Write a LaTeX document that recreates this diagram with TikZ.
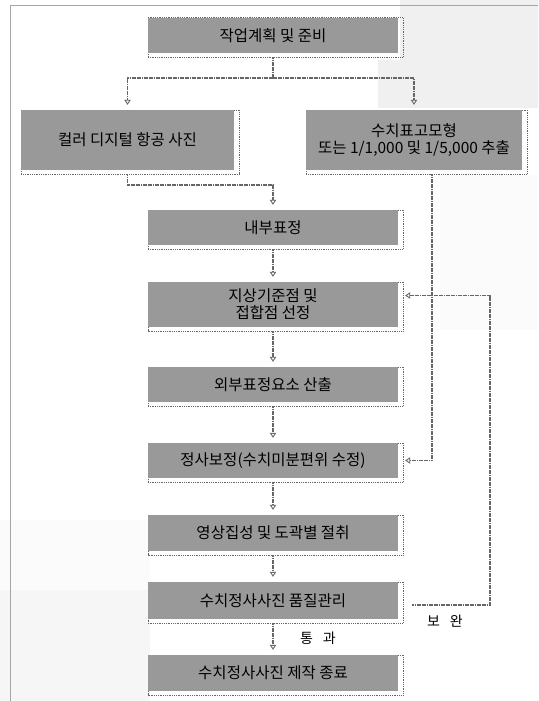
\documentclass[tikz,border=0pt]{standalone}
\usepackage{fontspec}
\setmainfont{Noto Sans CJK KR}
\usetikzlibrary{arrows.meta,backgrounds,calc}
\definecolor{boxgray}{gray}{0.6}
\definecolor{linegray}{gray}{0.4}
\definecolor{speckle}{gray}{0.94}
\newcommand\mywidespace{\spaceskip 0.7em\relax}
\begin{document}
\begin{tikzpicture}[x=1pt,y=-1pt,
  box/.style={fill=boxgray, inner sep=0pt, align=center,
    font=\fontsize{15.5}{17}\selectfont, minimum width=250pt, text=black},
  outl/.style={draw=linegray, line width=0.6pt, dash pattern=on 1pt off 0.8pt},
  ln/.style={draw=linegray, line width=1.6pt, dash pattern=on 1.8pt off 0.6pt},
  arr/.style={ln, shorten >=5pt,
    -{Triangle[open,length=5pt,width=6.5pt,line width=0.9pt]}},
  lbl/.style={font=\fontsize{14}{15}\selectfont\mywidespace, inner sep=0pt},
  framec/.style={draw=gray!70, line width=0.9pt}]
\useasboundingbox (0,0) rectangle (538,701);
\begin{scope}[on background layer]
  \fill[white] (0,0) rectangle (538,701);
  \fill[speckle] (400,0) -- (538,0) -- (538,108) -- (378,108) -- (378,60) -- (400,60) -- cycle;
  \fill[gray!3] (440,175) rectangle (538,330);
  \fill[gray!7] (0,590) rectangle (150,701);
  \fill[gray!3] (0,520) rectangle (150,590);
\end{scope}
\draw[framec] (10,701) -- (10,5) -- (538,5);

\node[box, minimum width=250pt, minimum height=35pt] (b1) at (273,35.5) {작업계획 및 준비};
\node[box, minimum width=213pt, minimum height=60pt] (b2) at (127.5,140) {컬러 디지털 항공 사진};
\node[box, minimum width=216pt, minimum height=60pt] (b3) at (414,140) {수치표고모형\\또는 1/1,000 및 1/5,000 추출};
\node[box, minimum height=35pt] (b4) at (273,227.5) {내부표정};
\node[box, minimum height=45pt] (b5) at (273,304.5) {지상기준점 및\\접합점 선정};
\node[box, minimum height=35pt] (b6) at (273,384.5) {외부표정요소 산출};
\node[box, minimum height=35pt] (b7) at (273,460.5) {정사보정(수치미분편위 수정)};
\node[box, minimum height=36pt] (b8) at (273,533) {영상집성 및 도곽별 절취};
\node[box, minimum height=37pt] (b9) at (273,600.5) {수치정사사진 품질관리};
\node[box, minimum height=36pt] (b10) at (273,673) {수치정사사진 제작 종료};

\begin{scope}[on background layer]
  \foreach \n in {1,...,10}
    \draw[outl] (b\n.north west) rectangle ([shift={(5,4)}]b\n.south east);
\end{scope}

\coordinate (sp) at (273,78);
\draw[ln, shorten <=4pt] (b1.south) -- (sp);
\draw[arr] (sp) -| (b2.north);
\draw[arr] (sp) -| (b3.north);
\draw[arr, shorten <=4pt] (b2.south) -- ++(0,15) -| (b4.north);
\draw[arr, shorten <=4pt, shorten >=7pt] ([xshift=18pt]b3.south) |- (b7.east);
\foreach \a/\b in {4/5,5/6,6/7,7/8,8/9,9/10}
  \draw[arr, shorten <=4pt] (b\a.south) -- (b\b.north);
\coordinate (lp) at (490,295.5);
\draw[arr, shorten >=7pt] ([shift={(14,4.5)}]b9.east) -| (lp) -- ([yshift=9pt]b5.east);

\node[lbl] (t1) at (318,638) {통 과};
\node[lbl] (t2) at (445,621) {보 완};
\end{tikzpicture}
\end{document}
